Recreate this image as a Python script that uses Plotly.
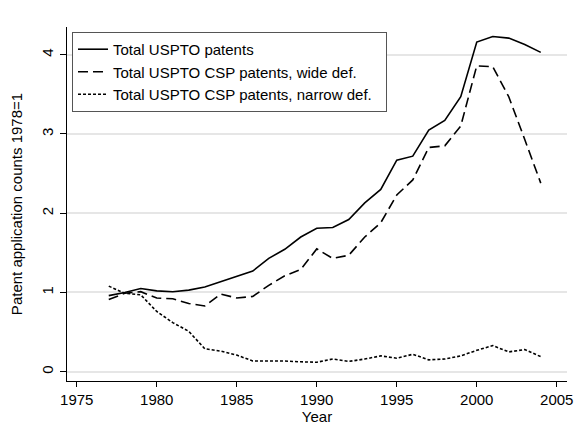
import plotly.graph_objects as go

years = list(range(1977, 2005))
total_uspto = [0.96, 1.00, 1.05, 1.02, 1.01, 1.03, 1.07, 1.14, 1.21, 1.27, 1.43, 1.545, 1.70, 1.81,
               1.82, 1.92, 2.13, 2.30, 2.67, 2.72, 3.05, 3.17, 3.47, 4.16, 4.23, 4.21, 4.13, 4.03]
csp_wide = [0.91, 0.99, 1.01, 0.93, 0.92, 0.86, 0.83, 0.98, 0.93, 0.95, 1.09, 1.21, 1.29, 1.55,
            1.43, 1.47, 1.70, 1.88, 2.23, 2.42, 2.83, 2.85, 3.10, 3.86, 3.85, 3.47, 2.93, 2.38]
csp_narrow = [1.08, 0.99, 0.97, 0.76, 0.62, 0.51, 0.29, 0.26, 0.21, 0.135, 0.135, 0.135, 0.125, 0.12,
              0.16, 0.13, 0.16, 0.20, 0.17, 0.22, 0.15, 0.16, 0.20, 0.27, 0.33, 0.25, 0.28, 0.19]

x_ticks = [1975, 1980, 1985, 1990, 1995, 2000, 2005]
y_ticks = [0, 1, 2, 3, 4]

names = ["Total USPTO patents", "Total USPTO CSP patents, wide def.",
         "Total USPTO CSP patents, narrow def.  "]

FONT = "Liberation Sans, Arial, sans-serif"

fig = go.Figure()
fig.add_trace(go.Scatter(x=years, y=total_uspto, mode="lines", name=names[0],
                         line=dict(color="black", width=1.6)))
fig.add_trace(go.Scatter(x=years, y=csp_wide, mode="lines", name=names[1],
                         line=dict(color="black", width=1.6, dash="10px,5px")))
fig.add_trace(go.Scatter(x=years, y=csp_narrow, mode="lines", name=names[2],
                         line=dict(color="black", width=1.6, dash="3px,2px")))

fig.update_layout(
    width=574, height=425,
    margin=dict(l=67, r=7, t=27, b=44),
    paper_bgcolor="white", plot_bgcolor="white",
    font=dict(family=FONT, size=15, color="black"),
    showlegend=True,
    legend=dict(x=0.01, y=0.986, xanchor="left", yanchor="top",
                bgcolor="white", bordercolor="#555555", borderwidth=1,
                font=dict(family=FONT, size=15, color="black"),
                tracegroupgap=0, itemwidth=30),
    xaxis=dict(range=[1974.39, 2005.64], tickvals=x_ticks, ticks="outside", ticklen=5,
               tickcolor="black", showline=True, linecolor="black", linewidth=1,
               showgrid=False, zeroline=False, automargin=False,
               title=dict(text="Year", standoff=3, font=dict(size=15)),
               tickfont=dict(size=15)),
    yaxis=dict(range=[-0.117, 4.35], tickvals=y_ticks, ticks="outside", ticklen=6,
               tickcolor="black", showline=True, linecolor="black", linewidth=1,
               showgrid=True, gridcolor="#e6e6e6", gridwidth=1.5, zeroline=False,
               tickangle=-90, automargin=False, ticklabelstandoff=1,
               title=dict(text="Patent application counts 1978=1", standoff=12, font=dict(size=15)),
               tickfont=dict(size=15)),
)

# remove the browser's default 8px page margin so the 574x425 figure fills the window exactly
fig.write_html("out.html",
               config={"displayModeBar": False},
               post_script="document.body.style.margin='0';document.body.style.overflow='hidden';")
